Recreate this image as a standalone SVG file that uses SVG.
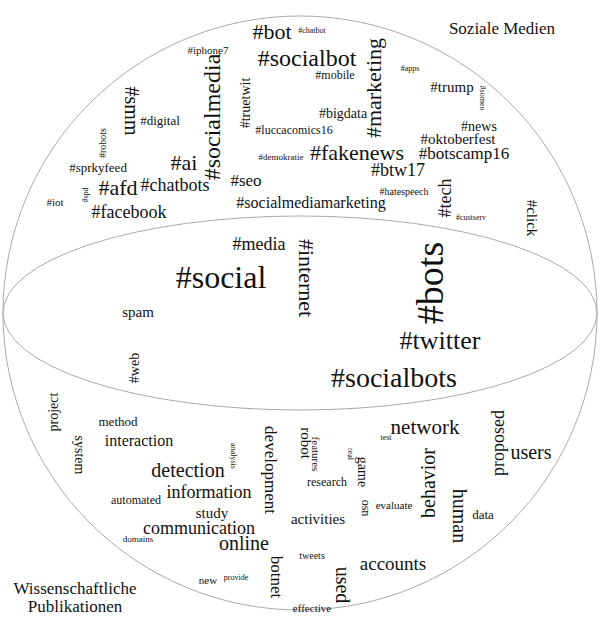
<svg xmlns="http://www.w3.org/2000/svg" width="600" height="627" viewBox="0 0 600 627" font-family="'Liberation Serif', 'Times New Roman', 'DejaVu Serif', serif">
<style>
text{fill:#111;text-anchor:middle;dominant-baseline:central}
.o{fill:none;stroke:#aaa;stroke-width:1}
</style>
<rect width="600" height="627" fill="#fff"/>
<g id="shapes">
<circle class="o" cx="300" cy="313" r="297"/>
<ellipse class="o" cx="300" cy="313" rx="297" ry="97"/>
</g>
<g id="social">
<text transform="translate(502,28)" font-size="17">Soziale Medien</text>
<text transform="translate(272,31)" font-size="22">#bot</text>
<text transform="translate(312,30)" font-size="8">#chatbot</text>
<text transform="translate(208,50)" font-size="11">#iphone7</text>
<text transform="translate(307,58)" font-size="24">#socialbot</text>
<text transform="translate(335,75)" font-size="12">#mobile</text>
<text transform="translate(410,68)" font-size="8">#apps</text>
<text transform="translate(373,88) rotate(-90)" font-size="22">#marketing</text>
<text transform="translate(452,87)" font-size="15">#trump</text>
<text transform="translate(482,98) rotate(90)" font-size="8">#someo</text>
<text transform="translate(245,103) rotate(-90)" font-size="14">#truetwit</text>
<text transform="translate(132,111) rotate(90)" font-size="20">#smm</text>
<text transform="translate(160,120)" font-size="13">#digital</text>
<text transform="translate(212,117) rotate(-90)" font-size="24">#socialmedia</text>
<text transform="translate(343,113)" font-size="14">#bigdata</text>
<text transform="translate(294,130)" font-size="12">#luccacomics16</text>
<text transform="translate(479,126)" font-size="14">#news</text>
<text transform="translate(458,139)" font-size="15">#oktoberfest</text>
<text transform="translate(464,153)" font-size="17">#botscamp16</text>
<text transform="translate(281,157)" font-size="9">#demokratie</text>
<text transform="translate(357,152)" font-size="22">#fakenews</text>
<text transform="translate(398,170)" font-size="18">#btw17</text>
<text transform="translate(102,143) rotate(-90)" font-size="10">#robots</text>
<text transform="translate(98,167)" font-size="13">#sprkyfeed</text>
<text transform="translate(184,162)" font-size="22">#ai</text>
<text transform="translate(246,180)" font-size="17">#seo</text>
<text transform="translate(404,191)" font-size="10">#hatespeech</text>
<text transform="translate(445,198) rotate(-90)" font-size="18">#tech</text>
<text transform="translate(471,217)" font-size="8">#custserv</text>
<text transform="translate(532,218) rotate(90)" font-size="15">#click</text>
<text transform="translate(85,195) rotate(-90)" font-size="8">#spd</text>
<text transform="translate(118,187)" font-size="22">#afd</text>
<text transform="translate(175,185)" font-size="18">#chatbots</text>
<text transform="translate(311,202)" font-size="16">#socialmediamarketing</text>
<text transform="translate(55,202)" font-size="11">#iot</text>
<text transform="translate(129,212)" font-size="18">#facebook</text>
</g>
<g id="middle">
<text transform="translate(259,244)" font-size="18">#media</text>
<text transform="translate(306,278) rotate(90)" font-size="22">#internet</text>
<text transform="translate(221,277)" font-size="32">#social</text>
<text transform="translate(430,283) rotate(-90)" font-size="38">#bots</text>
<text transform="translate(138,312)" font-size="15">spam</text>
<text transform="translate(440,340)" font-size="26">#twitter</text>
<text transform="translate(134,368) rotate(-90)" font-size="14">#web</text>
<text transform="translate(394,377)" font-size="28">#socialbots</text>
</g>
<g id="science">
<text transform="translate(53,412) rotate(-90)" font-size="14">project</text>
<text transform="translate(118,421)" font-size="13">method</text>
<text transform="translate(139,440)" font-size="16">interaction</text>
<text transform="translate(79,455) rotate(90)" font-size="14">system</text>
<text transform="translate(188,470)" font-size="20">detection</text>
<text transform="translate(233,456) rotate(90)" font-size="8">analysis</text>
<text transform="translate(270,470) rotate(90)" font-size="17">development</text>
<text transform="translate(209,492)" font-size="18">information</text>
<text transform="translate(136,500)" font-size="12">automated</text>
<text transform="translate(212,513)" font-size="15">study</text>
<text transform="translate(199,528)" font-size="18">communication</text>
<text transform="translate(138,539)" font-size="9">domains</text>
<text transform="translate(244,543)" font-size="20">online</text>
<text transform="translate(276,577) rotate(90)" font-size="17">botnet</text>
<text transform="translate(208,580)" font-size="11">new</text>
<text transform="translate(236,577)" font-size="8">provide</text>
<text transform="translate(75,588)" font-size="17">Wissenschaftliche</text>
<text transform="translate(75,606)" font-size="17">Publikationen</text>
<text transform="translate(425,427)" font-size="21">network</text>
<text transform="translate(386,437)" font-size="8">test</text>
<text transform="translate(306,443) rotate(90)" font-size="15">robot</text>
<text transform="translate(316,454) rotate(90)" font-size="11">features</text>
<text transform="translate(350,454) rotate(90)" font-size="8">real</text>
<text transform="translate(362,472) rotate(90)" font-size="14">game</text>
<text transform="translate(327,482)" font-size="12">research</text>
<text transform="translate(428,483) rotate(-90)" font-size="20">behavior</text>
<text transform="translate(498,443) rotate(-90)" font-size="18">proposed</text>
<text transform="translate(531,452)" font-size="20">users</text>
<text transform="translate(460,516) rotate(90)" font-size="20">human</text>
<text transform="translate(366,508) rotate(90)" font-size="12">osn</text>
<text transform="translate(394,505)" font-size="11">evaluate</text>
<text transform="translate(483,514)" font-size="13">data</text>
<text transform="translate(318,519)" font-size="15">activities</text>
<text transform="translate(312,555)" font-size="10">tweets</text>
<text transform="translate(393,563)" font-size="19">accounts</text>
<text transform="translate(343,585) rotate(90)" font-size="20">used</text>
<text transform="translate(312,608)" font-size="11">effective</text>
</g>
</svg>
